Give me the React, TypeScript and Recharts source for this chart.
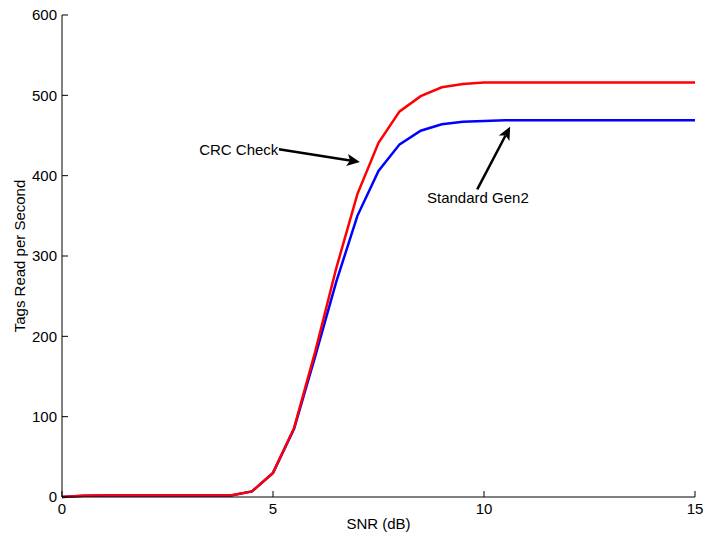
import { LineChart, Line, XAxis, YAxis, ReferenceLine, ReferenceDot } from "recharts";

const snr = [
  0, 0.5, 1, 1.5, 2, 2.5, 3, 3.5, 4, 4.5, 5, 5.5, 6, 6.5, 7, 7.5, 8, 8.5, 9, 9.5,
  10, 10.5, 11, 11.5, 12, 12.5, 13, 13.5, 14, 14.5, 15,
];
const standardGen2 = [
  0, 1.5, 2, 2, 2, 2, 2, 2, 2, 7, 30, 85, 175, 268, 350, 406, 439, 456, 464, 467,
  468, 469, 469, 469, 469, 469, 469, 469, 469, 469, 469,
];
const crcCheck = [
  0, 1.5, 2, 2, 2, 2, 2, 2, 2, 7, 30, 86, 181, 285, 377, 441, 480, 499, 510, 514,
  516, 516, 516, 516, 516, 516, 516, 516, 516, 516, 516,
];
const xTicks = [0, 5, 10, 15];
const yTicks = [0, 100, 200, 300, 400, 500, 600];

// arrow annotations: [tail, head] in data units
const crcArrow = [
  { x: 5.14, y: 433 },
  { x: 7.06, y: 417 },
];
const gen2Arrow = [
  { x: 9.84, y: 383 },
  { x: 10.62, y: 461 },
];
const crcText = { x: 3.25, y: 432, label: "CRC Check" };
const gen2Text = { x: 8.65, y: 372, label: "Standard Gen2" };

const data = snr.map((s, i) => ({ snr: s, gen2: standardGen2[i], crc: crcCheck[i] }));

const FONT = "'Liberation Sans', Arial, sans-serif";
const TICK_LEN = 6;

function LeftTick({ x, y, payload }: any) {
  const ax = x + 5;
  return (
    <g>
      <line x1={ax} x2={ax + TICK_LEN} y1={y} y2={y} stroke="#000" />
      <text x={x} y={y} dy="0.36em" textAnchor="end" fontSize={15} fontFamily={FONT} fill="#000">
        {payload.value}
      </text>
    </g>
  );
}

function BottomTick({ x, y, payload }: any) {
  const ay = y - 6;
  return (
    <g>
      <line x1={x} x2={x} y1={ay} y2={ay - TICK_LEN} stroke="#000" />
      <text x={x} y={y} dy="0.72em" textAnchor="middle" fontSize={15} fontFamily={FONT} fill="#000">
        {payload.value}
      </text>
    </g>
  );
}

function RightTick({ x, y }: any) {
  return <line x1={x} x2={x - TICK_LEN} y1={y} y2={y} stroke="#000" />;
}

function TopTick({ x, y }: any) {
  return <line x1={x} x2={x} y1={y} y2={y + TICK_LEN} stroke="#000" />;
}

function Arrow(props: any) {
  const { x1, y1, x2, y2 } = props;
  const dx = x2 - x1;
  const dy = y2 - y1;
  const len = Math.sqrt(dx * dx + dy * dy);
  const ux = dx / len;
  const uy = dy / len;
  const headLen = 13;
  const headW = 6;
  const bx = x2 - ux * headLen;
  const by = y2 - uy * headLen;
  const pts = [
    `${x2},${y2}`,
    `${bx - uy * headW},${by + ux * headW}`,
    `${bx + ux * 3},${by + uy * 3}`,
    `${bx + uy * headW},${by - ux * headW}`,
  ].join(" ");
  return (
    <g>
      <line x1={x1} y1={y1} x2={bx + ux * 3} y2={by + uy * 3} stroke="#000" strokeWidth={2.5} />
      <polygon points={pts} fill="#000" />
    </g>
  );
}

export default function App() {
  return (
    <div style={{ width: 704, height: 536, background: "#fff" }}>
      <style>{"body { margin: 0; }"}</style>
      <LineChart
        width={704}
        height={536}
        data={data}
        margin={{ top: 15, right: 9, bottom: 0, left: 0 }}
      >
        <XAxis
          dataKey="snr"
          type="number"
          domain={[0, 15]}
          ticks={xTicks}
          interval={0}
          height={39}
          tickSize={0}
          tickMargin={6}
          tickLine={false}
          axisLine={{ stroke: "#000" }}
          tick={<BottomTick />}
          label={{
            value: "SNR (dB)",
            position: "insideBottom",
            offset: 7,
            fontSize: 15,
            fontFamily: FONT,
            fill: "#000",
          }}
        />
        <XAxis
          xAxisId="top"
          dataKey="snr"
          type="number"
          orientation="top"
          domain={[0, 15]}
          ticks={xTicks}
          interval={0}
          height={0}
          tickSize={0}
          tickMargin={0}
          tickLine={false}
          axisLine={{ stroke: "#000" }}
          tick={<TopTick />}
        />
        <YAxis
          type="number"
          domain={[0, 600]}
          ticks={yTicks}
          interval={0}
          width={62}
          tickSize={0}
          tickMargin={5}
          tickLine={false}
          axisLine={{ stroke: "#000" }}
          tick={<LeftTick />}
          label={{
            value: "Tags Read per Second",
            angle: -90,
            position: "insideLeft",
            offset: 20,
            fontSize: 15,
            fontFamily: FONT,
            fill: "#000",
            style: { textAnchor: "middle" },
          }}
        />
        <YAxis
          yAxisId="right"
          type="number"
          orientation="right"
          domain={[0, 600]}
          ticks={yTicks}
          interval={0}
          width={0}
          tickSize={0}
          tickMargin={0}
          tickLine={false}
          axisLine={{ stroke: "#000" }}
          tick={<RightTick />}
        />
        <Line
          dataKey="gen2"
          stroke="#0000ff"
          strokeWidth={2.5}
          dot={false}
          isAnimationActive={false}
          type="linear"
        />
        <Line
          dataKey="crc"
          stroke="#ff0000"
          strokeWidth={2.5}
          dot={false}
          isAnimationActive={false}
          type="linear"
        />
        <ReferenceLine segment={crcArrow} shape={Arrow} />
        <ReferenceLine segment={gen2Arrow} shape={Arrow} />
        <ReferenceDot
          x={crcText.x}
          y={crcText.y}
          r={0}
          stroke="none"
          label={{ value: crcText.label, position: "right", offset: 0, fontSize: 15, fontFamily: FONT, fill: "#000" }}
        />
        <ReferenceDot
          x={gen2Text.x}
          y={gen2Text.y}
          r={0}
          stroke="none"
          label={{ value: gen2Text.label, position: "right", offset: 0, fontSize: 15, fontFamily: FONT, fill: "#000" }}
        />
      </LineChart>
    </div>
  );
}
